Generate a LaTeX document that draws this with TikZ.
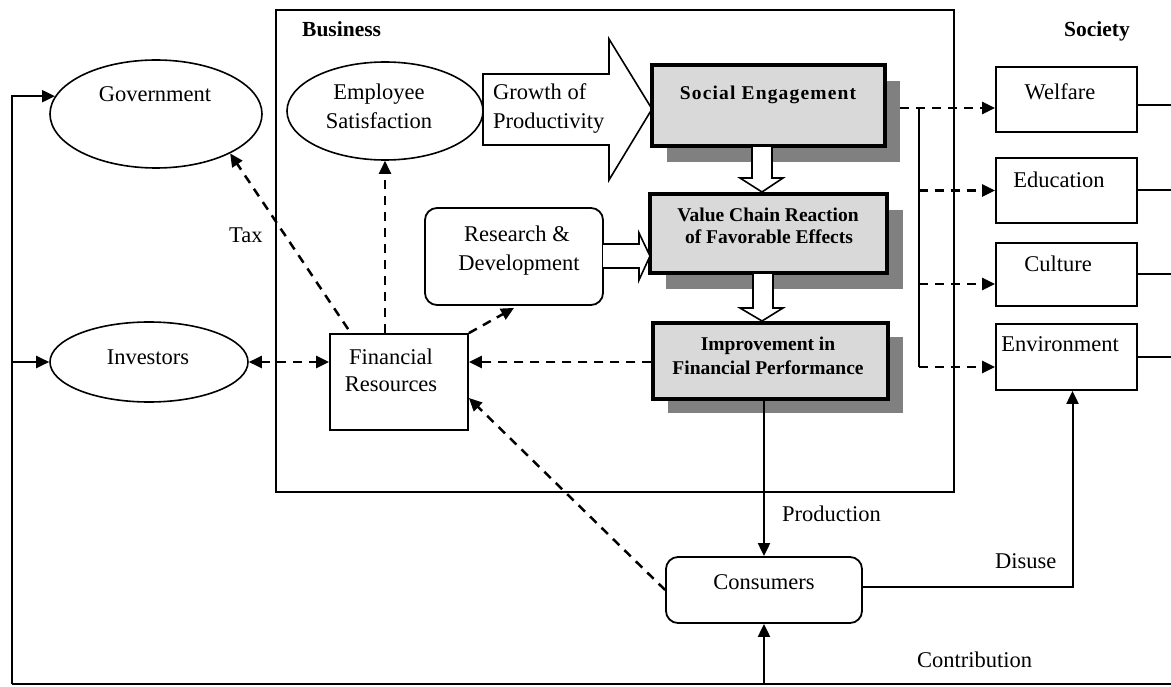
\documentclass[tikz,border=0pt]{standalone}
\usepackage{fontspec}
\setmainfont{Liberation Serif}
\usetikzlibrary{arrows.meta,shapes.geometric,calc}
\definecolor{boxgray}{HTML}{D9D9D9}
\definecolor{shadowgray}{HTML}{808080}

\begin{document}
\begin{tikzpicture}[x=1pt,y=-1pt,
  every node/.style={font=\fontsize{22.5}{29}\selectfont},
  txt/.style={anchor=base, inner sep=0pt},
  ltxt/.style={anchor=base west, inner sep=0pt},
  btxt/.style={txt, font=\fontsize{19.5}{24}\selectfont\bfseries},
  head/.style={ltxt, font=\fontsize{21.5}{26}\selectfont\bfseries},
  oval/.style={draw, ellipse, line width=1.6pt, inner sep=0pt},
  plainbox/.style={draw, rectangle, line width=1.8pt, inner sep=0pt},
  roundbox/.style={draw, rectangle, rounded corners=12pt, line width=1.8pt, inner sep=0pt},
  keybox/.style={draw, rectangle, fill=boxgray, line width=3.2pt, inner sep=0pt},
  shadowbox/.style={rectangle, fill=shadowgray, inner sep=0pt},
  tip/.style={-{Triangle[length=13pt,width=12pt]}},
  line/.style={line width=2pt},
  flow/.style={line, tip},
  dflow/.style={flow, line width=2.5pt, dash pattern=on 9pt off 7pt},
  ddflow/.style={dflow, {Triangle[length=13pt,width=12pt]}-{Triangle[length=13pt,width=12pt]}},
  blockarrow/.style={draw, fill=white, line width=1.6pt, line join=miter},
]
\useasboundingbox (0,0) rectangle (1171,687);

% ---------- business frame ----------
\node[plainbox, minimum width=678pt, minimum height=482pt] (biz) at (615,251) {};
\node[head] (biz-t) at (302,37) {Business};
\node[head] (soc-t) at (1064,37) {Society};

% ---------- outside actors ----------
\node[oval, minimum width=212pt, minimum height=108pt] (gov) at (156,114) {};
\node[txt] (gov-t) at (155,102) {Government};
\node[oval, minimum width=198pt, minimum height=80pt] (inv) at (149,362) {};
\node[txt] (inv-t) at (148,364) {Investors};

% ---------- inside the business ----------
\node[oval, minimum width=196pt, minimum height=98pt] (es) at (385,111) {};
\node[txt] (es-t1) at (379,100) {Employee};
\node[txt] (es-t2) at (379,129) {Satisfaction};

% broad arrow: growth of productivity
\draw[blockarrow] (483,74) -- (609,74) -- (609,39) -- (652,109) -- (609,180)
  -- (609,145) -- (483,145) -- cycle;
\node[ltxt] (gr-t1) at (493,100) {Growth of};
\node[ltxt] (gr-t2) at (493,129) {Productivity};

% shadows of the three key boxes
\node[shadowbox, minimum width=233pt, minimum height=81pt] (se-sh) at (783.5,121.5) {};
\node[shadowbox, minimum width=237pt, minimum height=79pt] (vc-sh) at (784.5,249.5) {};
\node[shadowbox, minimum width=235pt, minimum height=76pt] (imp-sh) at (785.5,375) {};

% key boxes
\node[keybox, minimum width=233pt, minimum height=81pt] (se) at (768.5,105.5) {};
\node[btxt] (se-t) at (768,100) {\addfontfeature{LetterSpace=6}Social Engagement};
\node[keybox, minimum width=237pt, minimum height=79pt] (vc) at (768.5,233.5) {};
\node[btxt] (vc-t1) at (768,222) {Value Chain Reaction};
\node[btxt] (vc-t2) at (769,244) {of Favorable Effects};
\node[keybox, minimum width=235pt, minimum height=76pt] (imp) at (770.5,361) {};
\node[btxt] (imp-t1) at (768,351) {Improvement in};
\node[btxt] (imp-t2) at (768,374) {Financial Performance};

% hollow arrows between the key boxes
\draw[blockarrow] (752,146) -- (772,146) -- (772,178) -- (783,178) -- (762,192)
  -- (740,178) -- (752,178) -- cycle;
\draw[blockarrow] (753,273) -- (773,273) -- (773,308) -- (783,308) -- (762,321)
  -- (740,308) -- (753,308) -- cycle;

% research and development
\node[roundbox, minimum width=178pt, minimum height=97pt] (rd) at (514,256.5) {};
\node[txt] (rd-t1) at (517,242) {Research \&};
\node[txt] (rd-t2) at (519,271) {Development};
\draw[blockarrow] (603,244) -- (639,244) -- (639,233) -- (650,256) -- (639,280)
  -- (639,268) -- (603,268);

% financial resources
\node[plainbox, minimum width=138pt, minimum height=96pt] (fr) at (399,382) {};
\node[txt] (fr-t1) at (391,364) {Financial};
\node[txt] (fr-t2) at (391,391) {Resources};

% ---------- society ----------
\node[plainbox, minimum width=141pt, minimum height=65pt] (wel) at (1066.5,99.5) {};
\node[txt] (wel-t) at (1060,100) {Welfare};
\node[plainbox, minimum width=141pt, minimum height=65pt] (edu) at (1066.5,190.5) {};
\node[txt] (edu-t) at (1059,188) {Education};
\node[plainbox, minimum width=141pt, minimum height=63pt] (cul) at (1066.5,274.5) {};
\node[txt] (cul-t) at (1058,272) {Culture};
\node[plainbox, minimum width=141pt, minimum height=66pt] (env) at (1066.5,357) {};
\node[txt] (env-t) at (1060,352) {Environment};

% ---------- consumers ----------
\node[roundbox, minimum width=196pt, minimum height=66pt] (cons) at (764,590) {};
\node[txt] (cons-t) at (764,589) {Consumers};

% ---------- connectors ----------
\coordinate (loopL) at (12,684);
\coordinate (loopR) at (1171,684);
\coordinate (busTop) at (919,108);
\coordinate (busBot) at (919,367);

% contribution loop
\draw[line] (loopL) -- (loopR);
\draw[flow] (loopL) |- (gov.170);
\draw[flow] (loopL |- inv.west) -- (inv.west);
\draw[flow] (cons.south |- loopL) -- (cons.south);
\node[ltxt] (con-t) at (917,667) {Contribution};

% society outputs leave to the right
\draw[line] ($(wel.east)+(0,6)$) -- ($(wel.east -| loopR)+(0,6)$);
\draw[line] (edu.east) -- (edu.east -| loopR);
\draw[line] (cul.east) -- (cul.east -| loopR);
\draw[line] (env.east) -- (env.east -| loopR);

% production and disuse
\draw[flow] (cons.north |- imp.south) -- (cons.north);
\node[ltxt] (prod-t) at (782,521) {Production};
\draw[flow] ($(cons.east)+(0,-3)$) -| ($(env.south)+(6,0)$);
\node[ltxt] (dis-t) at (995,568) {Disuse};

% social engagement feeds society
\draw[line] (busTop) -- (busBot);
\draw[dflow] (se-sh.east |- busTop) -- (wel.west |- busTop);
\draw[dflow] (busTop |- edu.west) -- (edu.west);
\draw[dflow] (busTop |- 0,284) -- (cul.west |- 0,284);
\draw[dflow] (busBot) -- (env.west |- busBot);

% financial flows
\draw[ddflow] (inv.east) -- (inv.east -| fr.west);
\draw[dflow] (imp.west |- inv.east) -- (fr.east |- inv.east);
\draw[dflow] (fr.north east) -- ($(rd.south)+(0,2)$);
\draw[dflow] (fr.north -| es.south) -- (es.south);
\draw[dflow] ($(fr.north west)+(19,-4)$) -- (gov.-28);
\node[ltxt] (tax-t) at (229,243) {Tax};
\draw[dflow] (cons.west) -- ($(fr.east)+(0,16)$);
\end{tikzpicture}
\end{document}
